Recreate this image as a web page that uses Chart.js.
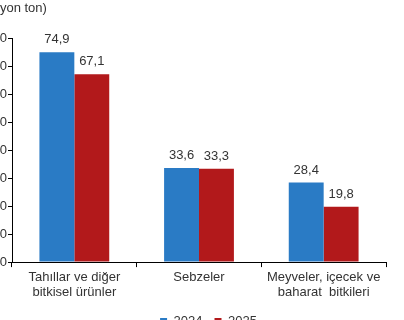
<!DOCTYPE html>
<html>
<head>
<meta charset="utf-8">
<script src="https://cdn.jsdelivr.net/npm/chart.js@4.4.1/dist/chart.umd.min.js"></script>
<style>
  html, body { margin: 0; padding: 0; background: #fff; overflow: hidden; width: 404px; height: 320px; }
  #wrap { position: absolute; left: -28px; top: 0px; width: 432px; height: 338px; }
</style>
</head>
<body>
<div id="wrap"><canvas id="c" width="432" height="338"></canvas></div>
<script>
const categories = [["Tahıllar ve diğer", "bitkisel ürünler"], "Sebzeler", ["Meyveler, içecek ve", "baharat  bitkileri"]];
const seriesNames = ["2024", "2025"];
const values2024 = [74.9, 33.6, 28.4];
const values2025 = [67.1, 33.3, 19.8];
const yTicks = [0, 10, 20, 30, 40, 50, 60, 70, 80];
const unitTitle = "(milyon ton)";

const FONT = "'Liberation Sans', Arial, sans-serif";

const valueLabels = {
  id: 'valueLabels',
  afterDatasetsDraw(chart) {
    const ctx = chart.ctx;
    ctx.save();
    ctx.font = "13px " + FONT;
    ctx.fillStyle = "#333";
    ctx.textAlign = "center";
    ctx.textBaseline = "alphabetic";
    chart.data.datasets.forEach((ds, i) => {
      chart.getDatasetMeta(i).data.forEach((el, j) => {
        const v = ds.data[j];
        ctx.fillText(v.toFixed(1).replace('.', ','), el.x, el.y - 9);
      });
    });
    ctx.restore();
  }
};

const shiftLegend = {
  id: 'shiftLegend',
  afterLayout(chart) {
    if (chart.legend) { chart.legend.left += 26; chart.legend.right += 26; }
  }
};

new Chart(document.getElementById('c'), {
  type: 'bar',
  data: {
    labels: categories,
    datasets: [
      { label: seriesNames[0], data: values2024, backgroundColor: '#2a7bc5', borderWidth: 0 },
      { label: seriesNames[1], data: values2025, backgroundColor: '#b2191b', borderWidth: 0 }
    ]
  },
  options: {
    responsive: false,
    animation: false,
    devicePixelRatio: 1,
    layout: { padding: { left: 7, right: 18, top: 0, bottom: 0 } },
    datasets: { bar: { categoryPercentage: 0.56, barPercentage: 1.0 } },
    plugins: {
      title: {
        display: true, text: unitTitle, align: 'start', color: '#333',
        font: { family: FONT, size: 13, weight: 'normal' },
        padding: { top: 1, bottom: 21.4 }
      },
      legend: {
        position: 'bottom',
        labels: { boxWidth: 7, boxHeight: 7, padding: 12, color: '#333', font: { family: FONT, size: 13 } }
      },
      tooltip: { enabled: false }
    },
    scales: {
      x: {
        grid: { display: true, drawOnChartArea: false, drawTicks: true, tickLength: 5, color: '#000', offset: true },
        border: { display: true, color: '#000', width: 1 },
        ticks: { color: '#333', padding: 3, maxRotation: 0, autoSkip: false, font: { family: FONT, size: 13, lineHeight: 1.15 } }
      },
      y: {
        min: 0, max: 80,
        afterFit(scale) { scale.width = 33; },
        afterBuildTicks(scale) { scale.ticks = yTicks.map(v => ({ value: v })); },
        grid: { display: true, drawOnChartArea: false, drawTicks: true, tickLength: 4, color: '#000' },
        border: { display: true, color: '#000', width: 1 },
        ticks: { color: '#333', padding: 1, font: { family: FONT, size: 13 } }
      }
    }
  },
  plugins: [valueLabels, shiftLegend]
});
</script>
</body>
</html>
